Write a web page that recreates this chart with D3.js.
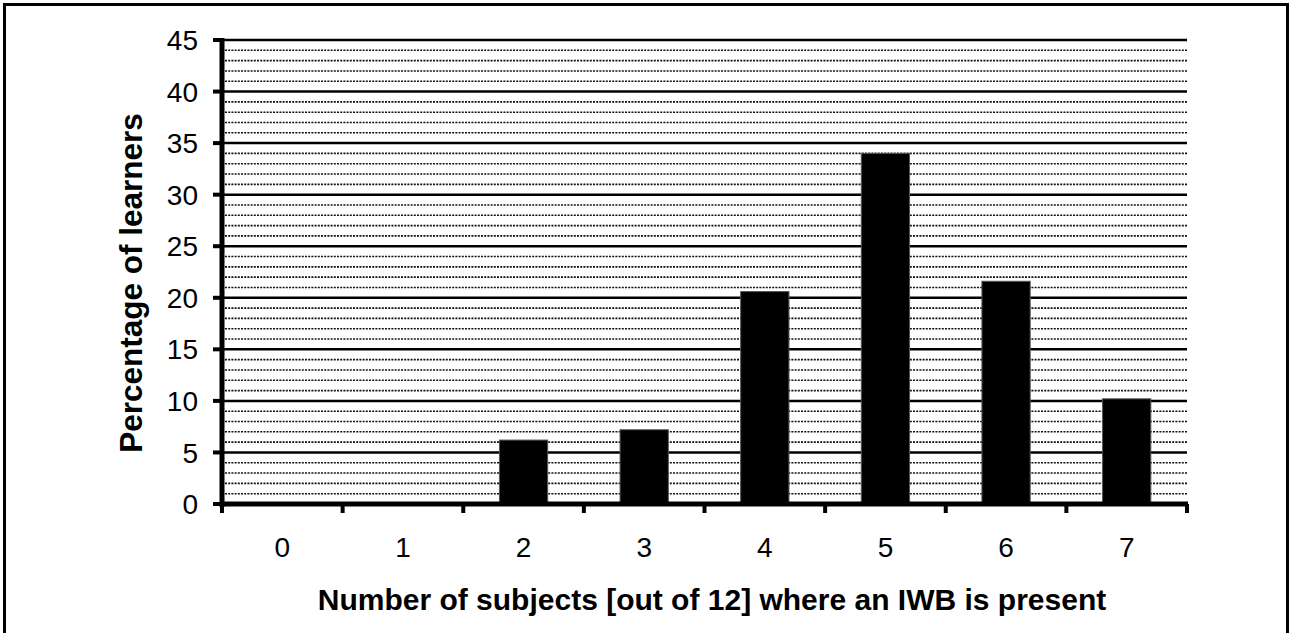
<!DOCTYPE html>
<html>
<head>
<meta charset="utf-8">
<script src="https://cdn.jsdelivr.net/npm/d3@7"></script>
<style>
  html, body { margin: 0; padding: 0; background: #fff; }
  svg { display: block; font-family: "Liberation Sans", Arial, sans-serif; }
</style>
</head>
<body>
<svg id="chart" width="1289" height="633"></svg>
<script>
const categories = ['0', '1', '2', '3', '4', '5', '6', '7'];
const values = [0, 0, 6.2, 7.2, 20.6, 34.0, 21.6, 10.2];
const yTicks = [0, 5, 10, 15, 20, 25, 30, 35, 40, 45];
const yMinor = d3.range(1, 46).filter(v => v % 5 !== 0);

const svg = d3.select('#chart');
const plotL = 222, plotR = 1187, plotT = 40, plotB = 504;

// outer frame
svg.append('rect').attr('x', 4.5).attr('y', 4.5).attr('width', 1283).attr('height', 660)
  .attr('fill', 'none').attr('stroke', '#000').attr('stroke-width', 3);

const x = d3.scaleBand().domain(categories).range([plotL, plotR]).paddingInner(0.6).paddingOuter(0.3);
const xEdge = d3.scaleLinear().domain([0, categories.length]).range([plotL, plotR]);
const y = d3.scaleLinear().domain([0, 45]).range([plotB, plotT]);

// minor dotted gridlines
svg.append('g').selectAll('line').data(yMinor).enter().append('line')
  .attr('x1', plotL + 3).attr('x2', plotR).attr('y1', d => y(d)).attr('y2', d => y(d))
  .attr('stroke', '#111').attr('stroke-width', 1.6).attr('stroke-dasharray', '2,1.2');

// major gridlines
svg.append('g').selectAll('line').data(yTicks.filter(d => d > 0)).enter().append('line')
  .attr('x1', plotL).attr('x2', plotR).attr('y1', d => y(d)).attr('y2', d => y(d))
  .attr('stroke', '#000').attr('stroke-width', 2.5);

// bars
svg.append('g').selectAll('rect').data(values).enter().append('rect')
  .attr('x', (d, i) => x(categories[i]))
  .attr('width', x.bandwidth())
  .attr('y', d => y(d))
  .attr('height', d => plotB - y(d))
  .attr('fill', '#000').attr('stroke', '#555').attr('stroke-width', 1);

// y axis
svg.append('line').attr('x1', plotL).attr('x2', plotL).attr('y1', plotT - 2).attr('y2', plotB + 3)
  .attr('stroke', '#000').attr('stroke-width', 5);
svg.append('g').selectAll('line').data(yTicks).enter().append('line')
  .attr('x1', plotL - 9).attr('x2', plotL).attr('y1', d => y(d)).attr('y2', d => y(d))
  .attr('stroke', '#000').attr('stroke-width', 4);
svg.append('g').selectAll('text').data(yTicks).enter().append('text')
  .attr('x', 198).attr('y', d => y(d)).attr('dy', '0.36em')
  .attr('text-anchor', 'end').attr('font-size', 28).text(d => d);

// x axis
svg.append('line').attr('x1', plotL - 2).attr('x2', plotR + 1).attr('y1', plotB).attr('y2', plotB)
  .attr('stroke', '#000').attr('stroke-width', 5);
svg.append('g').selectAll('line').data(d3.range(categories.length + 1)).enter().append('line')
  .attr('x1', d => xEdge(d)).attr('x2', d => xEdge(d)).attr('y1', plotB).attr('y2', plotB + 9)
  .attr('stroke', '#000').attr('stroke-width', 4);
svg.append('g').selectAll('text').data(categories).enter().append('text')
  .attr('x', d => x(d) + x.bandwidth() / 2).attr('y', 557)
  .attr('text-anchor', 'middle').attr('font-size', 28).text(d => d);

// axis titles
svg.append('text').attr('x', 712).attr('y', 610)
  .attr('text-anchor', 'middle').attr('font-size', 30).attr('font-weight', 'bold')
  .text('Number of subjects [out of 12] where an IWB is present');
svg.append('text').attr('transform', 'translate(142,283) rotate(-90)')
  .attr('text-anchor', 'middle').attr('font-size', 31.5).attr('font-weight', 'bold')
  .text('Percentage of learners');
</script>
</body>
</html>
